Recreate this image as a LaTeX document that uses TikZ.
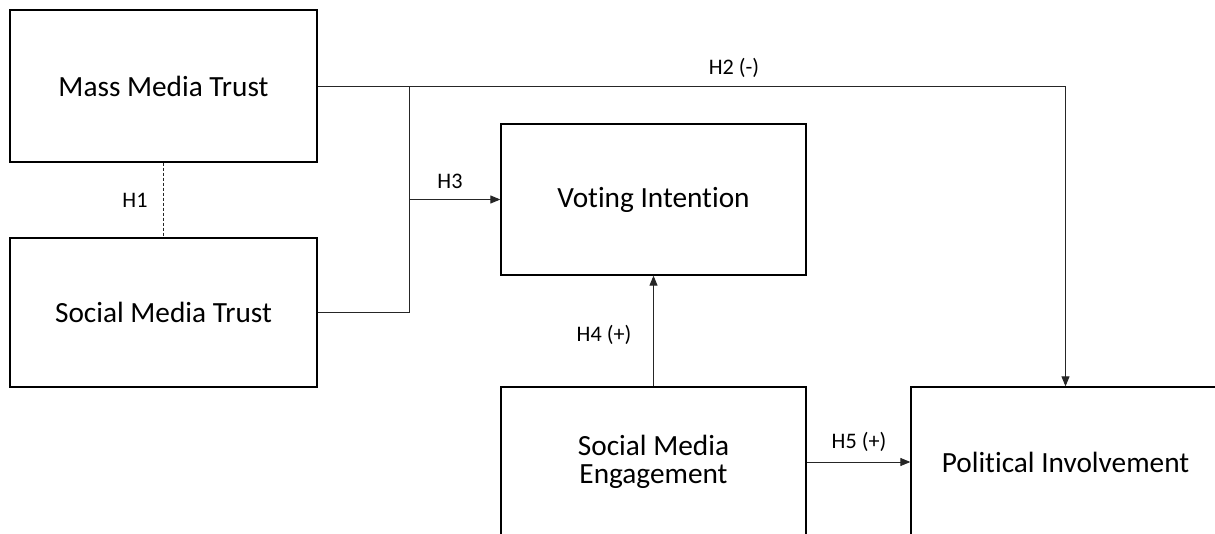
\documentclass[tikz,border=0pt]{standalone}
\usepackage{fontspec}
\setmainfont[Ligatures=NoCommon]{Carlito}
\usetikzlibrary{arrows.meta}
\begin{document}
\begin{tikzpicture}[x=1pt,y=-1pt,
  box/.style={draw=black, line width=1.3pt, rectangle, inner sep=0pt, align=center,
    font=\fontsize{29.3}{28.5}\selectfont},
  conn/.style={draw=black!85, line width=0.9pt},
  arr/.style={conn, -{Triangle[length=10pt,width=8pt]}},
  lab/.style={inner sep=0pt, font=\fontsize{22.2}{24}\selectfont}]
\clip (0,0) rectangle (1215,534);
\fill[white] (0,0) rectangle (1215,534);
\node[box, minimum width=307pt, minimum height=152pt] (mmt) at (163.5,86) {Mass Media Trust};
\node[box, minimum width=307pt, minimum height=149pt] (smt) at (163.5,312.5) {Social Media Trust};
\node[box, minimum width=305pt, minimum height=151pt] (vi) at (653.5,199.5) {Voting Intention};
\node[box, minimum width=305pt, minimum height=150pt] (sme) at (653.5,462) {Social Media\\Engagement};
\node[box, minimum width=309pt, minimum height=150pt] (pi) at (1065.5,462) {Political Involvement};
\coordinate (jt) at (409.5,86);
\coordinate (j) at (vi.west -| jt);
\draw[conn] (mmt.east) -- (jt);
\draw[conn] (smt.east) -| (jt);
\draw[arr] (j) -- (vi.west);
\draw[arr] (jt) -| (pi.north);
\draw[conn, dash pattern=on 3pt off 2pt, line width=0.8pt] (mmt.south) -- (smt.north);
\draw[arr] (sme.north) -- (vi.south);
\draw[arr] (sme.east) -- (pi.west);
\node[lab] (h1) at (135,200) {H1};
\node[lab] (h2) at (734,68) {H2 (-)};
\node[lab] (h3) at (450,181) {H3};
\node[lab] (h4) at (604,335) {H4 (+)};
\node[lab] (h5) at (859,442) {H5 (+)};
\end{tikzpicture}
\end{document}
